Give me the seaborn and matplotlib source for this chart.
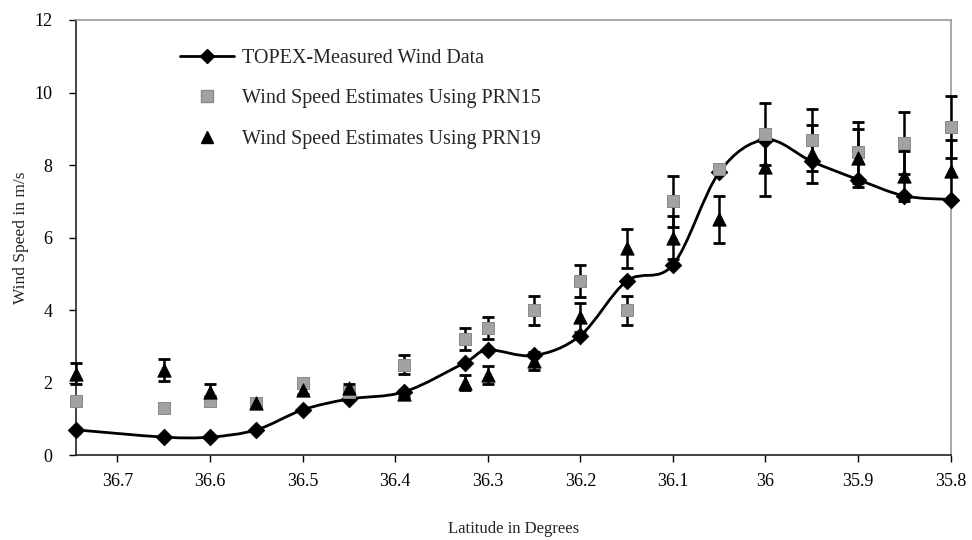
import numpy as np
import pandas as pd
import matplotlib
matplotlib.use("Agg")
import matplotlib.pyplot as plt
from matplotlib.path import Path
from matplotlib.patches import PathPatch
from matplotlib.lines import Line2D
import seaborn as sns

sns.set_style("ticks")
plt.rcParams['font.family'] = ['Liberation Serif', 'DejaVu Serif']

# values
latitude = [36.745, 36.65, 36.6, 36.55, 36.5, 36.45, 36.39, 36.325, 36.3, 36.25,
            36.2, 36.15, 36.1, 36.05, 36.0, 35.95, 35.9, 35.85, 35.8]
topex = [0.7, 0.5, 0.5, 0.7, 1.25, 1.55, 1.75, 2.55, 2.9, 2.75,
         3.3, 4.8, 5.25, 7.8, 8.7, 8.1, 7.6, 7.15, 7.05]
prn15 = [1.5, 1.3, 1.5, 1.45, 2.0, 1.75, 2.5, 3.2, 3.5, 4.0,
         4.8, 4.0, 7.0, 7.9, 8.85, 8.7, 8.35, 8.6, 9.05]
prn15_err = [0, 0, 0.1, 0.1, 0.1, 0.1, 0.25, 0.3, 0.3, 0.4,
             0.45, 0.4, 0.7, 0.1, 0.85, 0.85, 0.85, 0.85, 0.85]
prn19 = [2.25, 2.35, 1.75, 1.45, 1.8, 1.85, 1.7, 2.0, 2.2, 2.6,
         3.8, 5.7, 6.0, 6.5, 7.95, 8.3, 8.2, 7.7, 7.85]
prn19_err = [0.3, 0.3, 0.2, 0.1, 0.1, 0.1, 0.1, 0.2, 0.25, 0.25,
             0.4, 0.55, 0.6, 0.65, 0.8, 0.8, 0.8, 0.7, 0.85]
x_ticks = [36.7, 36.6, 36.5, 36.4, 36.3, 36.2, 36.1, 36.0, 35.9, 35.8]
x_ticklabels = ["36.7", "36.6", "36.5", "36.4", "36.3", "36.2", "36.1", "36", "35.9", "35.8"]

df = pd.DataFrame({"lat": latitude, "topex": topex, "prn15": prn15, "prn19": prn19})

fig = plt.figure(figsize=(9.72, 5.4), dpi=100)
ax = fig.add_axes([0.078, 0.157, 0.9, 0.806])

# smoothed line (Excel style bezier through the measured points)
pts = np.column_stack([df["lat"], df["topex"]])
n = len(pts)
verts = [pts[0]]
codes = [Path.MOVETO]
for i in range(n - 1):
    p_prev = pts[i - 1] if i > 0 else pts[i]
    p_next2 = pts[i + 2] if i + 2 < n else pts[i + 1]
    c1 = pts[i] + (pts[i + 1] - p_prev) / 6
    c2 = pts[i + 1] - (p_next2 - pts[i]) / 6
    verts += [c1, c2, pts[i + 1]]
    codes += [Path.CURVE4] * 3
ax.add_patch(PathPatch(Path(verts, codes), facecolor="none", edgecolor="black",
                       lw=2, zorder=2))
sns.scatterplot(data=df, x="lat", y="topex", marker="D", s=70, color="black",
                edgecolor="black", ax=ax, zorder=3, clip_on=False)

for vals, errs in [(prn15, prn15_err), (prn19, prn19_err)]:
    eb = ax.errorbar(df["lat"], vals, yerr=errs, fmt="none", ecolor="black",
                     elinewidth=1.8, capsize=4.5, capthick=2, zorder=4)
    for art in eb.lines[1] + eb.lines[2]:
        art.set_clip_on(False)
sns.scatterplot(data=df, x="lat", y="prn15", marker="s", s=80, color="#a2a2a2",
                edgecolor="#8a8a8a", ax=ax, zorder=5, clip_on=False)
sns.scatterplot(data=df, x="lat", y="prn19", marker="^", s=90, color="black",
                edgecolor="black", ax=ax, zorder=5, clip_on=False)

ax.set_xlim(36.745, 35.8)
ax.set_ylim(0, 12)
ax.set_xticks(x_ticks)
ax.set_xticklabels(x_ticklabels)
ax.set_yticks([0, 2, 4, 6, 8, 10, 12])
ax.tick_params(axis="both", direction="out", length=5, width=1, labelsize=13,
               colors="black", pad=8)
ax.tick_params(axis="y", pad=12)
ax.set_xlabel("Latitude in Degrees", fontsize=12, labelpad=22)
ax.set_ylabel("Wind Speed in m/s", fontsize=12.5, labelpad=4)

for side in ["left", "bottom"]:
    ax.spines[side].set_color("#222222")
    ax.spines[side].set_linewidth(1.2)
for side in ["top", "right"]:
    ax.spines[side].set_color("#9a9a9a")
    ax.spines[side].set_linestyle((0, (1, 1)))
    ax.spines[side].set_linewidth(1.2)

handles = [
    Line2D([0], [0], color="black", lw=2, marker="D", markersize=7),
    Line2D([0], [0], color="none", marker="s", markersize=8,
           markerfacecolor="#a2a2a2", markeredgecolor="#8a8a8a"),
    Line2D([0], [0], color="none", marker="^", markersize=8,
           markerfacecolor="black", markeredgecolor="black"),
]
labels = ["TOPEX-Measured Wind Data", "Wind Speed Estimates Using PRN15",
          "Wind Speed Estimates Using PRN19"]
ax.legend(handles, labels, loc="upper left", bbox_to_anchor=(0.098, 0.975),
          frameon=False, fontsize=14.5, handlelength=2.7, handletextpad=0.4,
          labelspacing=1.05)

fig.savefig("out.png", dpi=100)
